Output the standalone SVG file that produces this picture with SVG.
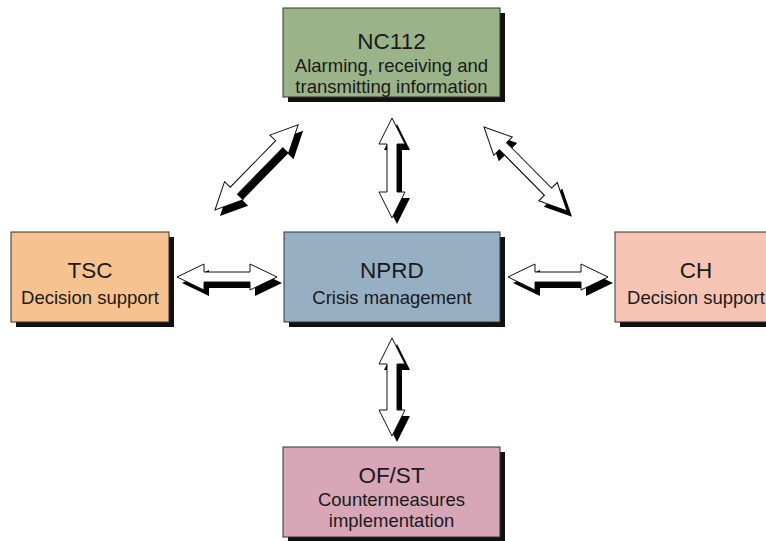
<svg xmlns="http://www.w3.org/2000/svg" xmlns:xlink="http://www.w3.org/1999/xlink" width="766" height="541" viewBox="0 0 766 541">
<style>
.box{stroke:#333;stroke-width:1}
.bshadow{fill:#111}
.title{font-family:"Liberation Sans",Arial,sans-serif;font-size:22.5px;fill:#1a1a1a;text-anchor:middle}
.sub{font-family:"Liberation Sans",Arial,sans-serif;font-size:18.5px;fill:#1a1a1a;text-anchor:middle}
.ash{fill:#000}
.arr{fill:#fff;stroke:#111;stroke-width:1;stroke-linejoin:miter}
</style>
<defs>
<path id="h1" d="M177,277 L204,264 L204,272 L250,272 L250,264 L277,277 L250,290 L250,282 L204,282 L204,290 Z"/>
<path id="h2" d="M508,277 L535,264 L535,272 L581,272 L581,264 L608,277 L581,290 L581,282 L535,282 L535,290 Z"/>
<path id="v1" d="M392,118 L405,144 L397,144 L397,192 L405,192 L392,218 L379,192 L387,192 L387,144 L379,144 Z"/>
<path id="v2" d="M392,338 L405,364 L397,364 L397,410 L405,410 L392,436 L379,410 L387,410 L387,364 L379,364 Z"/>
<path id="d1" transform="translate(215,210) rotate(-45.7)" d="M0,0 L27,-13 L27,-5 L92,-5 L92,-13 L119,0 L92,13 L92,5 L27,5 L27,13 Z"/>
<path id="d2" transform="translate(484,127) rotate(45.3)" d="M0,0 L27,-13 L27,-5 L91,-5 L91,-13 L118,0 L91,13 L91,5 L27,5 L27,13 Z"/>
</defs>

<g id="connectors">
<g class="ash" transform="translate(5,6)">
<use xlink:href="#h1"/><use xlink:href="#h2"/><use xlink:href="#v1"/><use xlink:href="#v2"/><use xlink:href="#d1"/><use xlink:href="#d2"/>
</g>
<g class="arr">
<use xlink:href="#h1"/><use xlink:href="#h2"/><use xlink:href="#v1"/><use xlink:href="#v2"/><use xlink:href="#d1"/><use xlink:href="#d2"/>
</g>
</g>

<g id="nc112">
<rect class="bshadow" x="288" y="13" width="217" height="89"/>
<rect class="box" x="283" y="8" width="217" height="89" fill="#9bb388"/>
<text class="title" x="391.5" y="49">NC112</text>
<text class="sub" x="391.5" y="72">Alarming, receiving and</text>
<text class="sub" x="391.5" y="93">transmitting information</text>
</g>

<g id="tsc">
<rect class="bshadow" x="16" y="237" width="158" height="90"/>
<rect class="box" x="11" y="232" width="158" height="90" fill="#f6c390"/>
<text class="title" x="90" y="278">TSC</text>
<text class="sub" x="90" y="304">Decision support</text>
</g>

<g id="nprd">
<rect class="bshadow" x="289" y="237" width="216" height="90"/>
<rect class="box" x="284" y="232" width="216" height="90" fill="#97afc3"/>
<text class="title" x="392" y="278">NPRD</text>
<text class="sub" x="392" y="304">Crisis management</text>
</g>

<g id="ch">
<rect class="bshadow" x="620" y="237" width="160" height="90"/>
<rect class="box" x="615" y="232" width="160" height="90" fill="#f6c4b3"/>
<text class="title" x="696" y="278">CH</text>
<text class="sub" x="696" y="304">Decision support</text>
</g>

<g id="ofst">
<rect class="bshadow" x="288" y="452" width="217" height="90"/>
<rect class="box" x="283" y="447" width="217" height="90" fill="#d7a7b8"/>
<text class="title" x="391.5" y="483">OF/ST</text>
<text class="sub" x="391.5" y="506">Countermeasures</text>
<text class="sub" x="391.5" y="527">implementation</text>
</g>
</svg>
